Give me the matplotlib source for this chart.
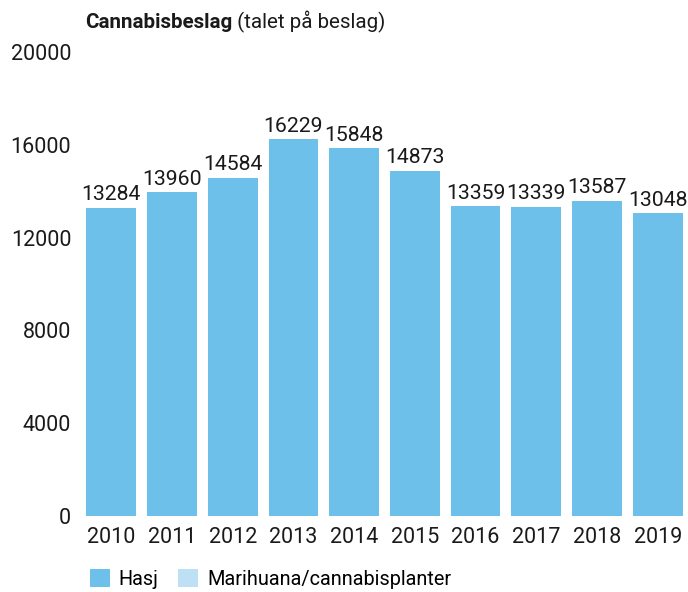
import matplotlib.pyplot as plt
from matplotlib.patches import Patch

# Data
years = ['2010', '2011', '2012', '2013', '2014', '2015', '2016', '2017', '2018', '2019']
hasj = [13284, 13960, 14584, 16229, 15848, 14873, 13359, 13339, 13587, 13048]
yticks = [0, 4000, 8000, 12000, 16000, 20000]

col_hasj = '#6cc0ea'
col_mari = '#bee0f5'

plt.rcParams['font.family'] = ['Roboto', 'DejaVu Sans']

fig = plt.figure(figsize=(6.88, 5.92), dpi=100)
ax = fig.add_axes([81 / 688, 76 / 592, 607 / 688, 464 / 592])

x = range(len(years))
bars = ax.bar(x, hasj, width=0.82, color=col_hasj)
for xi, v in zip(x, hasj):
    ax.text(xi, v + 150, str(v), ha='center', va='bottom', fontsize=15.3, color='#1a1a1a')

ax.set_xlim(-0.5, 9.5)
ax.set_ylim(0, 20000)
ax.set_yticks(yticks)
ax.set_yticklabels([str(t) for t in yticks], fontsize=15.5, color='#1a1a1a')
ax.set_xticks(list(x))
ax.set_xticklabels(years, fontsize=15.5, color='#1a1a1a')
ax.tick_params(axis='both', length=0)
ax.tick_params(axis='y', pad=7)
ax.tick_params(axis='x', pad=8)
for s in ax.spines.values():
    s.set_visible(False)

# titel: feit del + vanleg del
t1 = fig.text(85 / 688, 1 - 22 / 592, 'Cannabisbeslag', fontsize=14.8, fontweight='bold',
              color='#1a1a1a', va='center', ha='left')
ax.annotate(' (talet på beslag)', xy=(1, 0.5), xycoords=t1, fontsize=14.8,
            color='#1a1a1a', va='center', ha='left', annotation_clip=False)

handles = [Patch(facecolor=col_hasj, label='Hasj'),
           Patch(facecolor=col_mari, label='Marihuana/cannabisplanter')]
fig.legend(handles=handles, loc='center left', bbox_to_anchor=(82 / 688, 1 - 579 / 592),
           ncol=2, frameon=False, fontsize=14.3, handlelength=1.0, handleheight=1.0,
           handletextpad=0.45, columnspacing=1.0, borderaxespad=0)

fig.savefig('out.png', dpi=100)
